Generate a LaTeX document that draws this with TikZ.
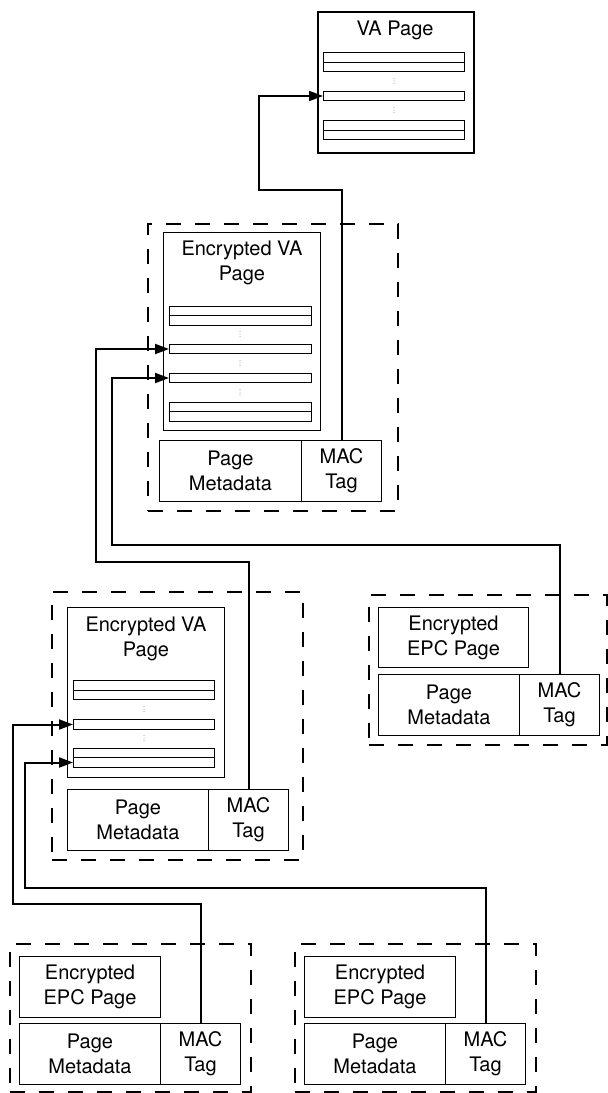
\documentclass[tikz,border=0pt]{standalone}
\usepackage{fontspec}
\setmainfont{TeX Gyre Heros}
\usetikzlibrary{arrows.meta}
\newcommand\rbox[7][]{\node[frame,#1,minimum width={(#5-#3)*1pt},minimum height={(#6-#4)*1pt}] (#2) at (#3,#4) {#7};}
\newcommand\vdts[2]{\foreach \dd in {-2.6,0,2.6}{\fill[gray] (#1,#2+\dd) circle (0.5pt);}}
\begin{document}
\begin{tikzpicture}[x=1pt,y=-1pt,
  frame/.style={draw,line width=1pt,inner sep=0pt,anchor=north west,align=center,
    font=\fontsize{20}{25}\selectfont},
  dashbox/.style={line width=2pt,dash pattern=on 15pt off 14pt},
  thickbox/.style={line width=2pt},
  lbl/.style={font=\fontsize{20}{25}\selectfont,align=center,inner sep=0pt},
  conn/.style={line width=2pt,-{Triangle[length=14pt,width=10pt]}}]
\useasboundingbox (0,0) rectangle (608,1093);
% dashed containers
\rbox[dashbox]{d1}{147}{223}{397}{510}{}
\rbox[dashbox]{d2}{51}{591}{302}{859}{}
\rbox[dashbox]{d3}{368}{594}{606}{744}{}
\rbox[dashbox]{d4}{9}{943}{250}{1091}{}
\rbox[dashbox]{d5}{294}{943}{535}{1091}{}
% top VA page
\rbox[thickbox]{va}{317}{11}{473}{152}{}
\node[lbl] (vat) at (395,30) {VA Page};
\rbox{vaA1}{323}{52}{464}{62}{}
\rbox{vaA2}{323}{62}{464}{71}{}
\rbox{vaS}{323}{91}{464}{100}{}
\rbox{vaB1}{323}{120}{464}{130}{}
\rbox{vaB2}{323}{130}{464}{139}{}
\vdts{394}{81}
\vdts{394}{110}
% encrypted VA page 1
\rbox{p1}{163}{232}{320}{430}{}
\node[lbl] (p1t) at (242,263) {Encrypted VA\\Page};
\rbox{p1A1}{169}{306}{311}{315}{}
\rbox{p1A2}{169}{315}{311}{325}{}
\rbox{p1S1}{169}{344}{311}{353}{}
\rbox{p1S2}{169}{373}{311}{382}{}
\rbox{p1B1}{169}{402}{311}{411}{}
\rbox{p1B2}{169}{411}{311}{421}{}
\vdts{240}{334}
\vdts{240}{363}
\vdts{240}{392}
\rbox{m1}{159}{440}{301}{501}{Page\\Metadata}
\rbox{t1}{301}{440}{381}{501}{MAC\\Tag}
% encrypted VA page 2
\rbox{p2}{67}{607}{224}{777}{}
\node[lbl] (p2t) at (146,639) {Encrypted VA\\Page};
\rbox{p2A1}{73}{680}{214}{690}{}
\rbox{p2A2}{73}{690}{214}{699}{}
\rbox{p2S}{73}{719}{214}{729}{}
\rbox{p2B1}{73}{748}{214}{757}{}
\rbox{p2B2}{73}{757}{214}{767}{}
\vdts{144}{709}
\vdts{144}{738}
\rbox{m2}{67}{789}{208}{850}{Page\\Metadata}
\rbox{t2}{208}{789}{288}{850}{MAC\\Tag}
% EPC right
\rbox{e1}{378}{607}{528}{667}{Encrypted\\EPC Page}
\rbox{m3}{378}{674}{519}{735}{Page\\Metadata}
\rbox{t3}{519}{674}{599}{735}{MAC\\Tag}
% EPC bottom left
\rbox{e2}{19}{956}{160}{1017}{Encrypted\\EPC Page}
\rbox{m4}{19}{1023}{160}{1084}{Page\\Metadata}
\rbox{t4}{160}{1023}{240}{1084}{MAC\\Tag}
% EPC bottom right
\rbox{e3}{304}{956}{455}{1017}{Encrypted\\EPC Page}
\rbox{m5}{304}{1023}{445}{1084}{Page\\Metadata}
\rbox{t5}{445}{1023}{525}{1084}{MAC\\Tag}
% connectors
\coordinate (k1) at (259,190);
\coordinate (k2) at (96,562);
\coordinate (k3) at (112,545);
\coordinate (k4) at (13,904);
\coordinate (k5) at (25,888);
\draw[conn] (t1.north) |- (k1) |- (vaS.west);
\draw[conn] (t2.north) |- (k2) |- (p1S1.west);
\draw[conn] (t3.north) |- (k3) |- (p1S2.west);
\draw[conn] (t4.north) |- (k4) |- (p2S.west);
\draw[conn] (t5.north) |- (k5) |- (p2B2.west);
\end{tikzpicture}
\end{document}
